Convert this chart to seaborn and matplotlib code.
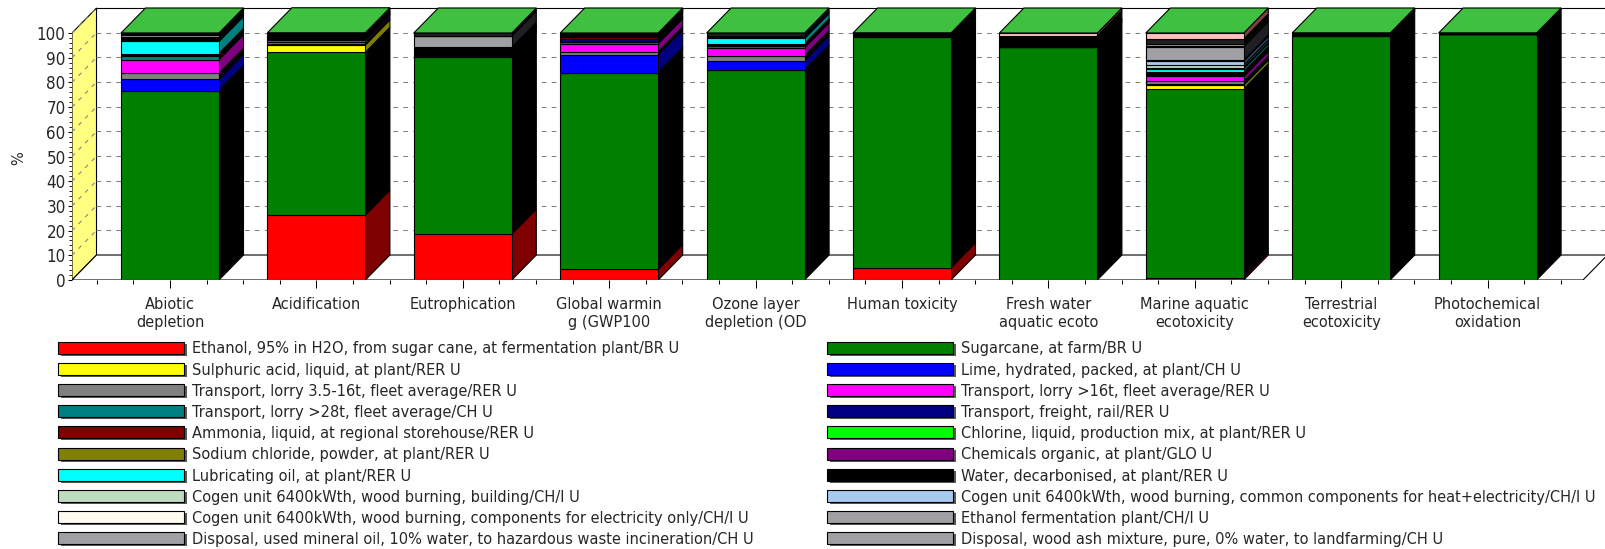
import numpy as np
import matplotlib
matplotlib.use("Agg")
import matplotlib.pyplot as plt
import matplotlib.patheffects as pe
from matplotlib import font_manager as fm
from matplotlib.patches import Polygon, Rectangle
from matplotlib.ticker import FixedLocator
import seaborn as sns

# ---- data -------------------------------------------------------------
categories = ["Abiotic depletion", "Acidification", "Eutrophication",
              "Global warming (GWP100)", "Ozone layer depletion (ODP)",
              "Human toxicity", "Fresh water aquatic ecotox.",
              "Marine aquatic ecotoxicity", "Terrestrial ecotoxicity",
              "Photochemical oxidation"]
tick_labels = ["Abiotic\ndepletion", "Acidification", "Eutrophication",
               "Global warmin\ng (GWP100", "Ozone layer\ndepletion (OD",
               "Human toxicity", "Fresh water\naquatic ecoto",
               "Marine aquatic\necotoxicity", "Terrestrial\necotoxicity",
               "Photochemical\noxidation"]

# contribution of each process, % of the impact category total
ethanol         = [0.0, 26.3, 18.6, 4.3, 0.0, 5.0, 0.0, 1.0, 0.0, 0.0]
sugarcane       = [76.5, 65.9, 71.8, 79.5, 84.9, 93.3, 94.2, 76.4, 98.7, 99.5]
sulphuric_acid  = [0.2, 3.0, 0.2, 0.2, 0.1, 0.1, 0.0, 1.5, 0.0, 0.0]
lime            = [4.6, 0.3, 0.2, 7.2, 3.8, 0.2, 0.0, 0.3, 0.2, 0.0]
lorry_3_5_16t   = [2.4, 0.7, 0.2, 1.2, 2.0, 0.3, 0.0, 1.2, 0.3, 0.0]
lorry_16t       = [5.5, 0.9, 0.7, 3.3, 3.3, 0.4, 0.0, 2.0, 0.2, 0.2]
lorry_28t       = [1.5, 0.3, 0.3, 0.8, 0.6, 0.2, 0.0, 0.6, 0.0, 0.0]
rail            = [0.3, 0.2, 0.3, 1.2, 0.4, 0.2, 0.6, 0.6, 0.2, 0.0]
ammonia         = [0.2, 0.5, 0.6, 0.8, 0.2, 0.0, 0.5, 0.3, 0.0, 0.0]
chlorine        = [0.1, 0.0, 0.0, 0.1, 0.0, 0.0, 0.0, 0.0, 0.0, 0.0]
sodium_chloride = [0.1, 0.3, 0.1, 0.3, 0.0, 0.0, 0.0, 0.0, 0.0, 0.0]
chemicals_org   = [0.3, 0.2, 0.2, 0.3, 0.3, 0.2, 0.3, 0.5, 0.0, 0.0]
lubricating_oil = [4.9, 0.0, 0.0, 0.0, 2.2, 0.0, 0.0, 1.2, 0.0, 0.0]
water           = [1.5, 0.9, 1.0, 0.4, 1.0, 0.1, 3.3, 0.4, 0.4, 0.3]
cogen_building  = [0.1, 0.0, 0.0, 0.0, 0.0, 0.0, 0.0, 1.0, 0.0, 0.0]
cogen_common    = [0.1, 0.0, 0.0, 0.0, 0.0, 0.0, 0.0, 1.6, 0.0, 0.0]
cogen_electric  = [0.1, 0.0, 0.0, 0.0, 0.0, 0.0, 0.0, 0.4, 0.0, 0.0]
fermentation    = [0.8, 0.0, 4.6, 0.0, 0.0, 0.0, 0.0, 5.5, 0.0, 0.0]
disposal_oil    = [0.4, 0.0, 0.0, 0.0, 0.0, 0.0, 0.0, 0.2, 0.0, 0.0]
disposal_ash    = [0.4, 0.0, 0.0, 0.0, 0.0, 0.0, 0.0, 1.0, 0.0, 0.0]
remaining_dark  = [0.0, 0.6, 1.2, 0.4, 1.2, 0.0, 0.0, 1.9, 0.0, 0.0]
remaining_pink  = [0.0, 0.0, 0.0, 0.0, 0.0, 0.0, 1.1, 2.4, 0.0, 0.0]

process_names = [
    "Ethanol, 95% in H2O, from sugar cane, at fermentation plant/BR U",
    "Sugarcane, at farm/BR U",
    "Sulphuric acid, liquid, at plant/RER U",
    "Lime, hydrated, packed, at plant/CH U",
    "Transport, lorry 3.5-16t, fleet average/RER U",
    "Transport, lorry >16t, fleet average/RER U",
    "Transport, lorry >28t, fleet average/CH U",
    "Transport, freight, rail/RER U",
    "Ammonia, liquid, at regional storehouse/RER U",
    "Chlorine, liquid, production mix, at plant/RER U",
    "Sodium chloride, powder, at plant/RER U",
    "Chemicals organic, at plant/GLO U",
    "Lubricating oil, at plant/RER U",
    "Water, decarbonised, at plant/RER U",
    "Cogen unit 6400kWth, wood burning, building/CH/I U",
    "Cogen unit 6400kWth, wood burning, common components for heat+electricity/CH/I U",
    "Cogen unit 6400kWth, wood burning, components for electricity only/CH/I U",
    "Ethanol fermentation plant/CH/I U",
    "Disposal, used mineral oil, 10% water, to hazardous waste incineration/CH U",
    "Disposal, wood ash mixture, pure, 0% water, to landfarming/CH U",
]
process_colors = ["#FF0000", "#008000", "#FFFF00", "#0000FF", "#808080",
                  "#FF00FF", "#008080", "#000080", "#800000", "#00FF00",
                  "#808000", "#800080", "#00FFFF", "#000000", "#C0DCC0",
                  "#A6CAF0", "#FFFBF0", "#A0A0A4", "#A0A0A4", "#A0A0A4",
                  "#202020", "#FFC0C0"]

stack = [ethanol, sugarcane, sulphuric_acid, lime, lorry_3_5_16t, lorry_16t,
         lorry_28t, rail, ammonia, chlorine, sodium_chloride, chemicals_org,
         lubricating_oil, water, cogen_building, cogen_common, cogen_electric,
         fermentation, disposal_oil, disposal_ash, remaining_dark, remaining_pink]

# ---- style ------------------------------------------------------------
sns.set_theme(style="white")
names = {f.name for f in fm.fontManager.ttflist}
if any(f.name == "DejaVu Sans" and str(f.stretch) == "condensed" for f in fm.fontManager.ttflist):
    plt.rcParams["font.family"] = ["DejaVu Sans"]
    plt.rcParams["font.stretch"] = "condensed"
    FS = 11.7
elif "Liberation Sans Narrow" in names:
    plt.rcParams["font.family"] = ["Liberation Sans Narrow", "DejaVu Sans"]
    FS = 12.5
else:
    plt.rcParams["font.family"] = ["Liberation Sans", "DejaVu Sans"]
    FS = 10.5

W, H = 1606, 549
PX_X = 146.4     # pixels per category step
PX_Y = 2.47      # pixels per percent
BAR_W = 98 / PX_X
DX = 24.5 / PX_X  # depth offset of the 3D boxes
DY = 25 / PX_Y
LW = 0.8


def shade(hex_color, delta):
    rgb = np.array([int(hex_color[i:i + 2], 16) for i in (1, 3, 5)]) + delta
    return tuple(np.clip(rgb, 0, 255) / 255)


fig = plt.figure(figsize=(W / 100, H / 100), dpi=100, facecolor="white")
ax = fig.add_axes([72 / W, (H - 280) / H, (W - 72) / W, 275 / H])
ax.set_facecolor("white")

x_lo = -(170 - 72) / PX_X
x_hi = x_lo + (W - 72) / PX_X
XL = x_lo
XR = x_lo + (1583 - 72) / PX_X

# chart box: left wall, floor, back wall top edge, dashed grid
ax.add_patch(Polygon([(XL, 0), (XL + DX, DY), (XL + DX, 100 + DY), (XL, 100)],
                     closed=True, facecolor="#FFFF80", edgecolor="black", lw=LW, zorder=1))
ax.add_patch(Polygon([(XL, 0), (XR, 0), (XR + DX, DY), (XL + DX, DY)],
                     closed=True, facecolor="white", edgecolor="black", lw=LW, zorder=1))
for v in range(10, 101, 10):
    ax.plot([XL, XL + DX], [v, v + DY], color="#808080", lw=0.75,
            ls=(0, (4, 5)), zorder=1.5)
    if v < 100:
        ax.plot([XL + DX, x_hi], [v + DY, v + DY], color="#808080", lw=0.75,
                ls=(0, (4.5, 5)), zorder=1.5)
ax.plot([XL + DX, x_hi], [100 + DY, 100 + DY], color="black", lw=LW, zorder=1.6)

# front faces of the stacked bars
n = len(categories)
bottom = np.zeros(n)
for vals, color in zip(stack, process_colors):
    sns.barplot(x=categories, y=vals, order=categories, bottom=bottom.copy(),
                color=color, saturation=1, width=BAR_W, errorbar=None,
                edgecolor="black", linewidth=LW, ax=ax, zorder=5)
    bottom += np.asarray(vals)

# side and top faces of each box
for i in range(n):
    xr = i + BAR_W / 2
    xl = i - BAR_W / 2
    base = 0.0
    for vals, color in zip(stack, process_colors):
        v = vals[i]
        if v <= 0:
            continue
        top = base + v
        ax.add_patch(Polygon([(xr, base), (xr + DX, base + DY), (xr + DX, top + DY), (xr, top)],
                             closed=True, facecolor=shade(color, -128),
                             edgecolor="black", lw=LW, zorder=4))
        base = top
    ax.add_patch(Polygon([(xl, base), (xl + DX, base + DY), (xr + DX, base + DY), (xr, base)],
                         closed=True, facecolor=shade(process_colors[1], 64),
                         edgecolor="black", lw=LW, zorder=4))

# axes
ax.set_xlim(x_lo, x_hi)
ax.set_ylim(0, 275 / PX_Y)
for s in ax.spines.values():
    s.set_visible(False)
ax.set_xlabel("")
ax.set_ylabel("")
ax.set_xticks(range(n))
ax.set_xticklabels(tick_labels, fontsize=FS, linespacing=1.3)
minor_x = [k for k in np.arange(-0.5, n - 0.5 + 1e-9, 0.25) if abs(k - round(k)) > 1e-6]
ax.xaxis.set_minor_locator(FixedLocator(minor_x))
ax.set_yticks(range(0, 101, 10))
ax.set_yticklabels([str(v) for v in range(0, 101, 10)], fontsize=FS + 0.5)
ax.yaxis.set_minor_locator(FixedLocator(np.arange(0, 101, 2)))
ax.tick_params(axis="x", which="major", direction="out", length=5.5, width=0.75,
               color="black", pad=6.5, bottom=True)
ax.tick_params(axis="x", which="minor", direction="out", length=3, width=0.75,
               color="black", bottom=True)
ax.tick_params(axis="y", which="major", direction="out", length=3, width=0.75,
               color="black", pad=1.5, left=True)
ax.tick_params(axis="y", which="minor", direction="out", length=2, width=0.6,
               color="black", left=True)
ax.grid(False)

fig.text(19 / W, 1 - 158 / H, "%", rotation=90, ha="center", va="center",
         fontsize=FS)

# legend (two columns, row by row)
for k, (label, color) in enumerate(zip(process_names, process_colors)):
    col, row = k % 2, k // 2
    px = (58.5, 827.5)[col]
    cy = 347.5 + 21.2 * row
    patch = Rectangle((px / W, 1 - (cy + 6) / H), 126 / W, 12 / H,
                      transform=fig.transFigure, facecolor=color,
                      edgecolor="black", lw=LW,
                      path_effects=[pe.SimplePatchShadow(offset=(1.5, -1.5),
                                                         shadow_rgbFace="0.35",
                                                         alpha=1.0),
                                    pe.Normal()])
    fig.add_artist(patch)
    fig.text((px + 134) / W, 1 - cy / H, label, ha="left", va="center_baseline",
             fontsize=FS)

fig.savefig("out.png", dpi=100, facecolor="white")
